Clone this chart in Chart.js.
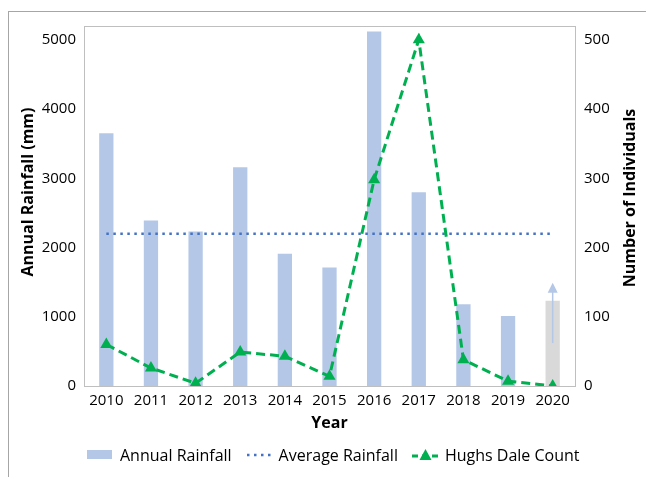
<!DOCTYPE html>
<html>
<head>
<meta charset="utf-8">
<script src="https://cdn.jsdelivr.net/npm/chart.js@4/dist/chart.umd.min.js"></script>
<style>
    body { margin: 0; background: #fff; font-family: 'Open Sans', sans-serif; }
    #wrap { position: relative; width: 646px; height: 477px; }
    #frame { position: absolute; left: 8px; top: 11px; right: 0; bottom: 0; border-top: 1px solid #a6a6a6; border-left: 1px solid #a6a6a6; }
    canvas { position: absolute; left: 0; top: 0; }
    #legend { position: absolute; left: 87px; top: 444px; display: flex; align-items: center; font-size: 16px; color: #000; white-space: nowrap; }
    .item { display: flex; align-items: center; margin-right: 14px; }
    .sym { width: 27px; height: 20px; margin-right: 6px; display: block; }
</style>
</head>
<body>
<div id="wrap">
    <div id="frame"></div>
    <canvas id="myChart" width="646" height="477"></canvas>
    <div id="legend"></div>
</div>
<script>
const years = ['2010', '2011', '2012', '2013', '2014', '2015', '2016', '2017', '2018', '2019', '2020'];
const annualRainfall = [3650, 2390, 2230, 3160, 1910, 1710, 5120, 2800, 1180, 1010, 1230];
const averageRainfall = [2200, 2200, 2200, 2200, 2200, 2200, 2200, 2200, 2200, 2200, 2200];
const hughsDaleCount = [60, 26, 4, 49, 43, 14, 298, 500, 38, 7, 0];
const rainfallTicks = [0, 1000, 2000, 3000, 4000, 5000];
const countTicks = [0, 100, 200, 300, 400, 500];
const partialYear = '2020';
const arrowRange = [620, 1490];

const blue = '#b4c7e7';
const grey = '#d9d9d9';
const green = '#00b050';
const dotBlue = '#4472c4';

Chart.defaults.font.family = "'Open Sans', sans-serif";
Chart.defaults.color = '#000';

/*Plot frame, axis titles and the arrow on the partial year*/

function drawVerticalTitle(ctx, text, x, y) {
    ctx.save();
    ctx.translate(x, y);
    ctx.rotate(-Math.PI / 2);
    ctx.font = "bold 16px 'Open Sans', sans-serif";
    ctx.fillStyle = '#000';
    ctx.textAlign = 'center';
    ctx.textBaseline = 'middle';
    ctx.fillText(text, 0, 0);
    ctx.restore();
}

const framePlugin = {
    id: 'frame',
    beforeDatasetsDraw(chart) {
        const { ctx, chartArea } = chart;
        ctx.save();
        ctx.strokeStyle = '#bfbfbf';
        ctx.lineWidth = 1;
        ctx.strokeRect(chartArea.left + 0.5, chartArea.top + 0.5, chartArea.width, chartArea.height);
        ctx.restore();
        const mid = (chartArea.top + chartArea.bottom) / 2;
        drawVerticalTitle(ctx, 'Annual Rainfall (mm)', 28, mid - 14);
        drawVerticalTitle(ctx, 'Number of Individuals', 630, mid - 8);
    },
    afterDatasetsDraw(chart) {
        const { ctx } = chart;
        const x = chart.scales.x.getPixelForValue(years.indexOf(partialYear));
        const y0 = chart.scales.y.getPixelForValue(arrowRange[0]);
        const y1 = chart.scales.y.getPixelForValue(arrowRange[1]);
        ctx.save();
        ctx.strokeStyle = blue;
        ctx.fillStyle = blue;
        ctx.lineWidth = 1.5;
        ctx.beginPath();
        ctx.moveTo(x, y0);
        ctx.lineTo(x, y1 + 8);
        ctx.stroke();
        ctx.beginPath();
        ctx.moveTo(x, y1);
        ctx.lineTo(x - 5, y1 + 10);
        ctx.lineTo(x + 5, y1 + 10);
        ctx.closePath();
        ctx.fill();
        ctx.restore();
    }
};

function keepTicks(list) {
    return function (scale) {
        scale.ticks = list.map(v => ({ value: v }));
    };
}

const ctx = document.getElementById('myChart');

new Chart(ctx, {
    type: 'bar',
    data: {
        labels: years,
        datasets: [
            {
                type: 'line',
                label: 'Hughs Dale Count',
                data: hughsDaleCount,
                yAxisID: 'y1',
                borderColor: green,
                backgroundColor: green,
                borderWidth: 3,
                borderDash: [9, 5],
                pointStyle: 'triangle',
                pointRadius: 7,
                pointBorderWidth: 0,
                tension: 0,
                order: 1
            },
            {
                type: 'line',
                label: 'Average Rainfall',
                data: averageRainfall,
                yAxisID: 'y',
                borderColor: dotBlue,
                borderWidth: 2.5,
                borderDash: [2.5, 4.5],
                pointRadius: 0,
                order: 2
            },
            {
                label: 'Annual Rainfall',
                data: annualRainfall,
                yAxisID: 'y',
                backgroundColor: years.map(y => y === partialYear ? grey : blue),
                barPercentage: 0.32,
                categoryPercentage: 1,
                order: 3
            }
        ]
    },
    options: {
        responsive: false,
        animation: false,
        layout: { padding: { left: 20, right: 0, top: 26, bottom: 44 } },
        plugins: {
            legend: { display: false },
            tooltip: { enabled: false }
        },
        scales: {
            x: {
                grid: { display: false, drawTicks: false },
                border: { display: false },
                ticks: { font: { size: 15 }, padding: 6, maxRotation: 0 },
                title: { display: true, text: 'Year', font: { size: 16, weight: 'bold' }, padding: { top: 0, bottom: 0 } },
                afterFit(scale) { scale.height = 47; }
            },
            y: {
                position: 'left',
                min: 0,
                max: 5200,
                grid: { display: false, drawTicks: false },
                border: { display: false },
                ticks: { font: { size: 15 }, padding: 8, callback: v => String(v) },
                afterBuildTicks: keepTicks(rainfallTicks),
                afterFit(scale) { scale.width = 64; }
            },
            y1: {
                position: 'right',
                min: 0,
                max: 520,
                grid: { display: false, drawTicks: false },
                border: { display: false },
                ticks: { font: { size: 15 }, padding: 9, callback: v => String(v) },
                afterBuildTicks: keepTicks(countTicks),
                afterFit(scale) { scale.width = 71; }
            }
        }
    },
    plugins: [framePlugin]
});

/*Legend*/

function legendSymbol(kind) {
    if (kind === 'bar') {
        return `<svg class="sym" viewBox="0 0 27 20"><rect x="0" y="5" width="25" height="9" fill="${blue}"/></svg>`;
    }
    if (kind === 'dot') {
        return `<svg class="sym" viewBox="0 0 27 20"><line x1="1" y1="10" x2="27" y2="10" stroke="${dotBlue}" stroke-width="2.5" stroke-dasharray="2.5 4.5"/></svg>`;
    }
    return `<svg class="sym" viewBox="0 0 27 20"><line x1="0" y1="11" x2="27" y2="11" stroke="${green}" stroke-width="3" stroke-dasharray="6 4"/><polygon points="13.5,4 19.5,15 7.5,15" fill="${green}"/></svg>`;
}

const legendItems = [['bar', 'Annual Rainfall'], ['dot', 'Average Rainfall'], ['tri', 'Hughs Dale Count']];
document.getElementById('legend').innerHTML = legendItems
    .map(([kind, text]) => `<span class="item">${legendSymbol(kind)}<span>${text}</span></span>`)
    .join('');
</script>
</body>
</html>
